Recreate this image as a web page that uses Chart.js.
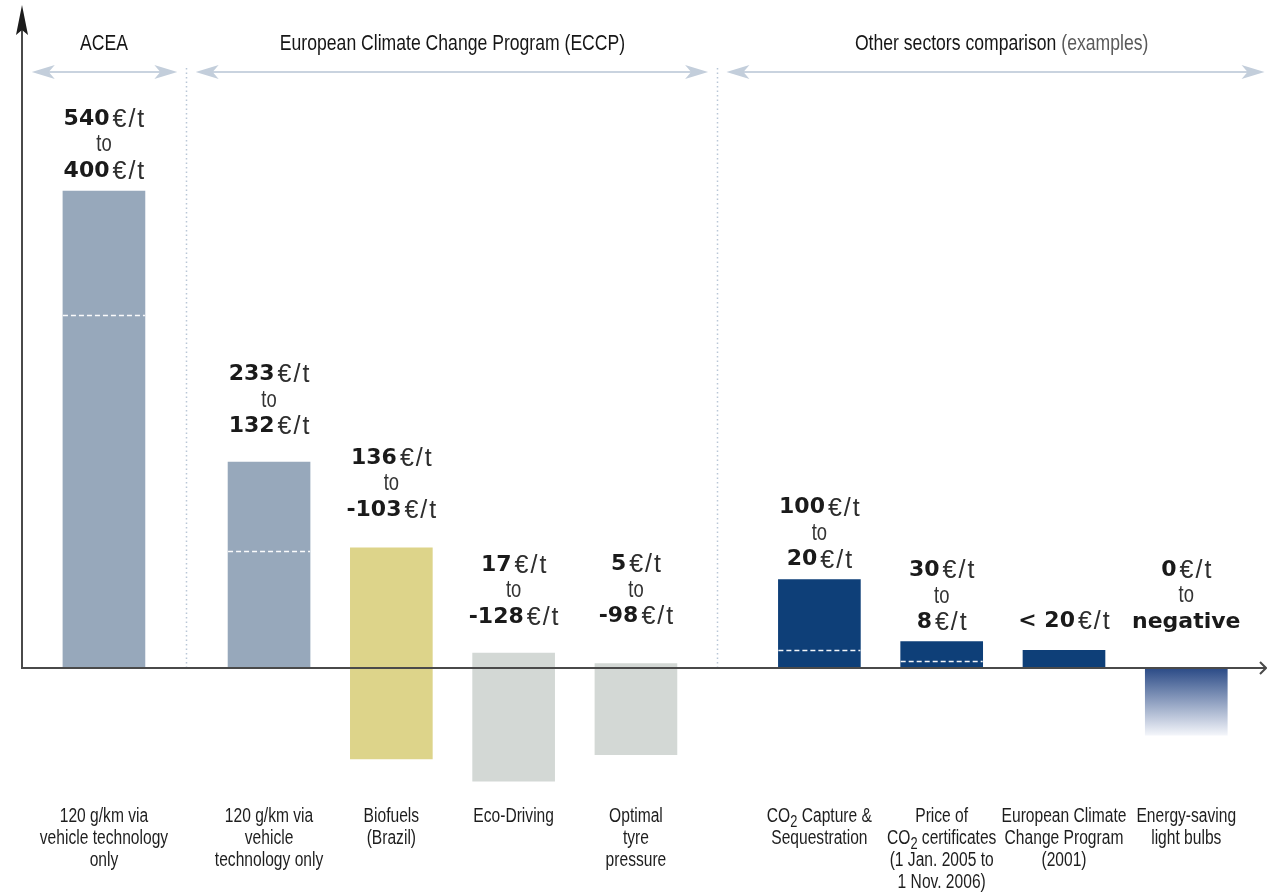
<!DOCTYPE html>
<html>
<head>
<meta charset="utf-8">
<script src="https://cdn.jsdelivr.net/npm/chart.js@4.4.0/dist/chart.umd.min.js"></script>
<style>
html, body { margin: 0; padding: 0; background: #fff; }
#wrap { width: 1267px; height: 893px; }
</style>
</head>
<body>
<div id="wrap"><canvas id="chart"></canvas></div>
<script>
// values (€ per tonne of CO2)
const categories = [
    ["120 g/km via", "vehicle technology", "only"],
    ["120 g/km via", "vehicle", "technology only"],
    ["Biofuels", "(Brazil)"],
    ["Eco-Driving"],
    ["Optimal", "tyre", "pressure"],
    ["CO₂ Capture &", "Sequestration"],
    ["Price of", "CO₂ certificates", "(1 Jan. 2005 to", "1 Nov. 2006)"],
    ["European Climate", "Change Program", "(2001)"],
    ["Energy-saving", "light bulbs"]
];
const groupNames = ["ACEA", "European Climate Change Program (ECCP)", "Other sectors comparison"];
const groupNote = ["", "", " (examples)"];

const barTop = [540, 233, 136, 17, 5, 100, 30, 20, 0];
const barBottom = [0, 0, -103, -128, -98, 0, 0, 0, -76];
const dashAt = [400, 132, null, null, null, 20, 8, null, null];

const upperText = ["540", "233", "136", "17", "5", "100", "30", "< 20", "0"];
const lowerText = ["400", "132", "-103", "-128", "-98", "20", "8", null, "negative"];

// layout
const slot = [0, 1.35, 2.35, 3.35, 4.35, 5.85, 6.85, 7.85, 8.85];
const labelLift = [20, 36, 38, 36, 47, 20, 19, 29, 46];
const groupSpan = [[-0.59, 0.6], [0.75, 4.94], [5.09, 9.49]];
const headerAt = [0, 2.85, 7.34];
const dividers = [0.675, 5.01];
const fills = ["#97a8bb", "#97a8bb", "#ddd48a", "#d3d8d5", "#d3d8d5", "#0e3f78", "#0e3f78", "#0e3f78", null];

const sans = "'Liberation Sans', Arial, sans-serif";
const squeeze = 0.8;

function barColor(c) {
    const i = c.dataIndex;
    if (fills[i]) return fills[i];
    const y = c.chart.scales.y;
    if (!y || !c.chart.chartArea) return "#2e4f8a";
    const g = c.chart.ctx.createLinearGradient(0, y.getPixelForValue(0), 0, y.getPixelForValue(barBottom[i]));
    g.addColorStop(0, "#2a4a86");
    g.addColorStop(1, "#f3f5fa");
    return g;
}

function arrowHead(ctx, x, y, dir) {
    ctx.beginPath();
    ctx.moveTo(x, y);
    ctx.lineTo(x - dir * 23, y - 7);
    ctx.lineTo(x - dir * 17, y);
    ctx.lineTo(x - dir * 23, y + 7);
    ctx.closePath();
    ctx.fill();
}

// condensed text, with "₂" drawn as a lowered smaller 2
function narrowText(ctx, text, cx, cy, size, color) {
    const parts = text.split("₂");
    const big = size + "px " + sans;
    const small = Math.round(size * 0.8) + "px " + sans;
    let w = 0;
    parts.forEach((p, k) => {
        ctx.font = big;
        w += ctx.measureText(p).width;
        if (k < parts.length - 1) {
            ctx.font = small;
            w += ctx.measureText("2").width;
        }
    });
    ctx.save();
    ctx.translate(cx, cy);
    ctx.scale(squeeze, 1);
    ctx.fillStyle = color;
    ctx.textAlign = "left";
    ctx.textBaseline = "middle";
    let x = -w / 2;
    parts.forEach((p, k) => {
        ctx.font = big;
        ctx.fillText(p, x, 0);
        x += ctx.measureText(p).width;
        if (k < parts.length - 1) {
            ctx.font = small;
            ctx.fillText("2", x, size * 0.3);
            x += ctx.measureText("2").width;
        }
    });
    ctx.restore();
}

function richLine(ctx, cx, cy, bold, unit) {
    const boldFont = "bold 22px 'DejaVu Sans', sans-serif";
    const unitFont = "25px " + sans;
    ctx.font = boldFont;
    const w1 = ctx.measureText(bold).width;
    let w2 = 0;
    const gap = unit ? 3 : 0;
    if (unit) {
        ctx.font = unitFont;
        ctx.letterSpacing = "2px";
        w2 = ctx.measureText(unit).width - 2;
        ctx.letterSpacing = "0px";
    }
    const x0 = cx - (w1 + gap + w2) / 2;
    ctx.textAlign = "left";
    ctx.textBaseline = "middle";
    ctx.font = boldFont;
    ctx.fillStyle = "#1a1a1a";
    ctx.fillText(bold, x0, cy);
    if (unit) {
        ctx.font = unitFont;
        ctx.letterSpacing = "2px";
        ctx.fillStyle = "#2e2e2e";
        ctx.fillText(unit, x0 + w1 + gap, cy + 1);
        ctx.letterSpacing = "0px";
    }
}

const decorations = {
    id: "decorations",
    beforeDatasetsDraw(chart) {
        const ctx = chart.ctx;
        const x = chart.scales.x;
        const y = chart.scales.y;
        const zero = y.getPixelForValue(0);
        ctx.save();

        // dotted dividers between groups
        ctx.strokeStyle = "#b9c6d6";
        ctx.lineWidth = 1.5;
        ctx.setLineDash([1.5, 3]);
        dividers.forEach(d => {
            const px = Math.round(x.getPixelForValue(d)) + 0.5;
            ctx.beginPath();
            ctx.moveTo(px, 68);
            ctx.lineTo(px, zero);
            ctx.stroke();
        });
        ctx.setLineDash([]);

        // group arrows and headers
        groupSpan.forEach((s, i) => {
            const a = x.getPixelForValue(s[0]);
            const b = x.getPixelForValue(s[1]);
            ctx.strokeStyle = "#c9d3df";
            ctx.fillStyle = "#c3cedb";
            ctx.lineWidth = 2;
            ctx.beginPath();
            ctx.moveTo(a + 10, 72);
            ctx.lineTo(b - 10, 72);
            ctx.stroke();
            arrowHead(ctx, a, 72, -1);
            arrowHead(ctx, b, 72, 1);

            const cx = x.getPixelForValue(headerAt[i]);
            ctx.font = "22px " + sans;
            const w1 = ctx.measureText(groupNames[i]).width * squeeze;
            const w2 = ctx.measureText(groupNote[i]).width * squeeze;
            const x0 = cx - (w1 + w2) / 2;
            narrowText(ctx, groupNames[i], x0 + w1 / 2, 44, 22, "#161616");
            if (groupNote[i]) narrowText(ctx, groupNote[i], x0 + w1 + w2 / 2, 44, 22, "#5a5a5a");
        });

        // category names under the axis
        categories.forEach((lines, i) => {
            const cx = x.getPixelForValue(slot[i]);
            lines.forEach((t, k) => narrowText(ctx, t, cx, 817 + k * 22, 19.5, "#1e1e1e"));
        });
        ctx.restore();
    },
    afterDatasetsDraw(chart) {
        const ctx = chart.ctx;
        const area = chart.chartArea;
        const y = chart.scales.y;
        const zero = y.getPixelForValue(0);
        const bars = chart.getDatasetMeta(0).data;
        ctx.save();

        // dashed marks inside bars
        ctx.strokeStyle = "rgba(255,255,255,0.95)";
        ctx.lineWidth = 1.5;
        ctx.setLineDash([5, 3]);
        bars.forEach((el, i) => {
            if (dashAt[i] === null) return;
            const py = Math.round(y.getPixelForValue(dashAt[i])) + 0.5;
            ctx.beginPath();
            ctx.moveTo(el.x - el.width / 2, py);
            ctx.lineTo(el.x + el.width / 2, py);
            ctx.stroke();
        });
        ctx.setLineDash([]);

        // axes
        ctx.strokeStyle = "#4a4a4a";
        ctx.lineWidth = 2;
        ctx.beginPath();
        ctx.moveTo(area.left, zero);
        ctx.lineTo(area.right - 1, zero);
        ctx.stroke();
        ctx.beginPath();
        ctx.moveTo(area.right - 7, zero - 6);
        ctx.lineTo(area.right - 1, zero);
        ctx.lineTo(area.right - 7, zero + 6);
        ctx.stroke();

        ctx.beginPath();
        ctx.moveTo(area.left, zero + 1);
        ctx.lineTo(area.left, 28);
        ctx.stroke();
        ctx.fillStyle = "#1c1c1c";
        ctx.beginPath();
        ctx.moveTo(area.left, 5);
        ctx.lineTo(area.left + 6, 35);
        ctx.lineTo(area.left, 30);
        ctx.lineTo(area.left - 6, 35);
        ctx.closePath();
        ctx.fill();

        // range labels above the bars
        bars.forEach((el, i) => {
            const base = y.getPixelForValue(barTop[i]) - labelLift[i];
            const cx = el.x;
            if (lowerText[i] === null) {
                richLine(ctx, cx, base, upperText[i], "€/t");
                return;
            }
            richLine(ctx, cx, base - 52, upperText[i], "€/t");
            narrowText(ctx, "to", cx, base - 26, 23, "#333");
            const isNum = /\d/.test(lowerText[i]);
            richLine(ctx, cx, base, lowerText[i], isNum ? "€/t" : null);
        });
        ctx.restore();
    }
};

const chart = new Chart(document.getElementById("chart").getContext("2d"), {
    type: "bar",
    data: {
        labels: categories.map(c => c.join(" ")),
        datasets: [{
            data: slot.map((s, i) => ({ x: s, y: [barBottom[i], barTop[i]] })),
            backgroundColor: barColor,
            borderWidth: 0,
            barThickness: 82
        }]
    },
    options: {
        responsive: true,
        maintainAspectRatio: false,
        animation: false,
        layout: { padding: { left: 22, right: 0, top: 0, bottom: 88 } },
        plugins: {
            legend: { display: false },
            tooltip: { enabled: false }
        },
        scales: {
            x: {
                type: "linear",
                display: false,
                min: -0.67,
                max: 9.51,
                offset: false
            },
            y: {
                display: false,
                min: -155.1,
                max: 756.2
            }
        }
    },
    plugins: [decorations]
});
</script>
</body>
</html>
